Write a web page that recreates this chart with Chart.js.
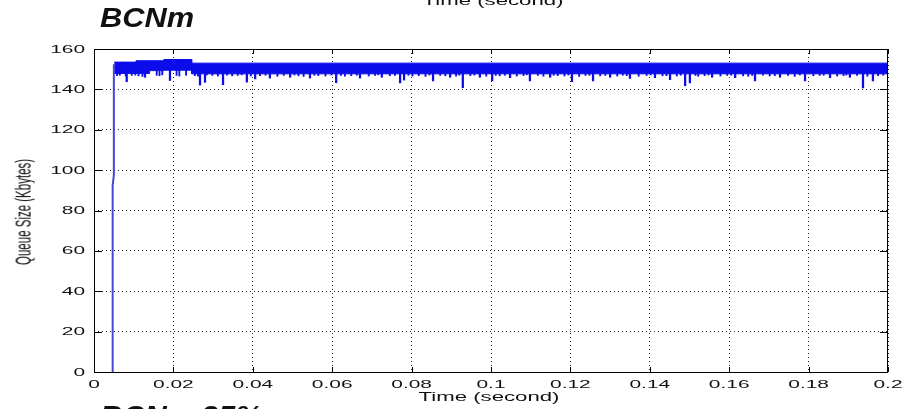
<!DOCTYPE html>
<html lang="en">
<head>
    <meta charset="utf-8">
    <title>BCNm queue size</title>
    <script src="https://cdn.jsdelivr.net/npm/chart.js"></script>
    <style>
        html, body { margin: 0; padding: 0; background: #fff; }
        #wrap {
            position: relative;
            width: 909px;
            height: 409px;
            overflow: hidden;
            font-family: "Liberation Sans", Arial, sans-serif;
            color: #111;
        }
        #myChart { position: absolute; left: 0; top: 0; }
        .big {
            position: absolute;
            left: 100px;
            font-size: 28px;
            line-height: 28px;
            font-weight: bold;
            font-style: italic;
            white-space: nowrap;
            transform: scaleX(1.1);
            transform-origin: left center;
        }
        .axis-title {
            position: absolute;
            font-size: 12px;
            line-height: 12px;
            white-space: nowrap;
            transform: translateX(-50%) scaleX(1.85);
        }
        #ytitle {
            position: absolute;
            left: 23px;
            top: 212px;
            font-size: 11.5px;
            line-height: 12px;
            white-space: nowrap;
            transform: translate(-50%, -50%) scaleX(1.9) rotate(-90deg);
        }
    </style>
</head>
<body>
<div id="wrap">
    <canvas id="myChart" width="909" height="409"></canvas>
    <div class="axis-title" style="left:493px; top:-5px;">Time (second)</div>
    <div class="big" style="top:4px;">BCNm</div>
    <div class="axis-title" style="left:489px; top:391px;">Time (second)</div>
    <div id="ytitle">Queue Size (Kbytes)</div>
    <div class="big" style="top:402px;">BCN – 25%</div>
</div>
<script>
    // --- tick labels ---
    const xTickLabels = ['0', '0.02', '0.04', '0.06', '0.08', '0.1', '0.12', '0.14', '0.16', '0.18', '0.2'];
    const yTickLabels = ['0', '20', '40', '60', '80', '100', '120', '140', '160'];

    // --- start-up edge of the queue ---
    const riseT = [0.0047, 0.0047, 0.0050, 0.0050];
    const riseV = [0, 92.5, 97.5, 152.5];

    // --- steady band (upper / lower envelope) ---
    const bandT   = [0.0051, 0.0106, 0.0106, 0.0140, 0.0140, 0.0176, 0.0176, 0.0246, 0.0246, 0.2];
    const bandTop = [153.5, 153.5, 154.2, 154.2, 154.2, 154.2, 154.8, 154.8, 153.0, 153.0];
    const bandLow = [147.9, 147.9, 147.9, 147.9, 149.3, 149.3, 149.5, 149.5, 147.7, 147.7];

    // --- deeper dips below the band ---
    const dipT = [0.00824, 0.01285, 0.01914, 0.0267, 0.02796, 0.0325, 0.0385, 0.0406, 0.0443, 0.0494,
                  0.0544, 0.0610, 0.0670, 0.0725, 0.0771, 0.0781, 0.0854, 0.0897, 0.0929, 0.0972,
                  0.1003, 0.1048, 0.1098, 0.1149, 0.1204, 0.1257, 0.1300, 0.1350, 0.1413, 0.1451,
                  0.1489, 0.1501, 0.1557, 0.1615, 0.1665, 0.1728, 0.1791, 0.1854, 0.1904, 0.1937, 0.1962];
    const dipV = [143.8, 146.0, 144.4, 142.1, 143.5, 142.3, 143.6, 145.2, 145.6, 146.0,
                  145.6, 143.3, 145.6, 146.0, 143.2, 144.6, 144.2, 146.0, 140.8, 146.0,
                  144.2, 145.8, 144.2, 146.0, 143.8, 144.2, 146.0, 145.4, 145.8, 144.8,
                  141.8, 143.2, 146.0, 145.8, 144.2, 146.0, 144.2, 145.8, 146.0, 140.7, 144.2];

    // --- small ripples just under the band ---
    const rippleT = [0.0058, 0.0065, 0.0080, 0.0095, 0.0104, 0.0112, 0.0122, 0.0158, 0.0165, 0.0172,
                     0.0208, 0.0215, 0.0232, 0.0254, 0.0262, 0.0284, 0.0298, 0.0312, 0.0335, 0.0348,
                     0.0362, 0.0372, 0.0395, 0.0418, 0.0432, 0.0462, 0.0478, 0.0505, 0.0515, 0.0528,
                     0.0555, 0.0565, 0.0583, 0.0598, 0.0622, 0.0632, 0.0648, 0.0662, 0.0692, 0.0708,
                     0.0716, 0.0745, 0.0758, 0.0792, 0.0802, 0.0818, 0.0835, 0.0845, 0.0872, 0.0885,
                     0.0912, 0.0920, 0.0948, 0.0958, 0.0988, 0.1012, 0.1022, 0.1035, 0.1065, 0.1082,
                     0.1090, 0.1118, 0.1132, 0.1158, 0.1168, 0.1185, 0.1195, 0.1222, 0.1238, 0.1248,
                     0.1275, 0.1288, 0.1318, 0.1332, 0.1342, 0.1372, 0.1392, 0.1402, 0.1432, 0.1442,
                     0.1468, 0.1478, 0.1515, 0.1522, 0.1538, 0.1548, 0.1578, 0.1595, 0.1605, 0.1635,
                     0.1648, 0.1658, 0.1685, 0.1702, 0.1715, 0.1748, 0.1765, 0.1778, 0.1812, 0.1828,
                     0.1838, 0.1872, 0.1888, 0.1895, 0.1922, 0.1948, 0.1975, 0.1988];
    const rippleV = [146.8, 147.0, 146.6, 146.9, 147.1, 146.7, 146.4, 147.0, 146.8, 147.2,
                     146.9, 146.6, 147.0, 146.8, 146.5, 147.1, 146.9, 146.6, 147.0, 146.7,
                     146.9, 147.2, 146.6, 146.8, 147.0, 146.5, 146.9, 147.1, 146.7, 146.4,
                     147.0, 146.8, 146.6, 147.1, 146.9, 146.5, 146.8, 147.0, 146.6, 146.9,
                     147.2, 146.7, 146.9, 147.0, 146.6, 146.8, 146.4, 147.1, 146.9, 146.7,
                     146.6, 147.0, 146.8, 147.1, 146.5, 146.9, 146.7, 147.0, 146.6, 146.8,
                     147.2, 146.9, 146.5, 147.0, 146.8, 146.6, 147.1, 146.4, 146.9, 147.0,
                     146.7, 146.9, 146.6, 147.0, 146.8, 146.5, 146.9, 147.1, 146.7, 146.8,
                     146.6, 147.0, 146.9, 146.5, 146.8, 147.1, 146.6, 146.9, 147.0, 146.7,
                     146.5, 146.9, 147.0, 146.6, 146.8, 146.9, 146.4, 147.1, 146.7, 146.9,
                     147.0, 146.6, 146.8, 147.1, 146.9, 146.5, 146.8, 147.0];

    const BLUE = 'rgb(12, 12, 235)';
    const zip = (ts, vs) => ts.map((t, i) => ({ x: t, y: vs[i] }));
    // each dip hangs from inside the band down to its value
    const spikes = (ts, vs) => ts.map((t, i) => ({ x: t, y: [vs[i], 150.5] }));

    // frame, inward ticks and stretched tick labels (MATLAB look)
    const matlabAxes = {
        id: 'matlabAxes',
        afterDraw(chart) {
            const { ctx, chartArea: a, scales: { x, y } } = chart;
            ctx.save();
            ctx.strokeStyle = '#000';
            ctx.lineWidth = 1;
            ctx.setLineDash([]);
            ctx.strokeRect(a.left + 0.5, a.top + 0.5, a.right - a.left - 1, a.bottom - a.top);
            ctx.beginPath();
            x.ticks.forEach(t => {
                const px = Math.round(x.getPixelForValue(t.value)) + 0.5;
                ctx.moveTo(px, a.bottom); ctx.lineTo(px, a.bottom - 5);
                ctx.moveTo(px, a.top); ctx.lineTo(px, a.top + 5);
            });
            y.ticks.forEach(t => {
                const py = Math.round(y.getPixelForValue(t.value)) + 0.5;
                ctx.moveTo(a.left, py); ctx.lineTo(a.left + 8, py);
                ctx.moveTo(a.right, py); ctx.lineTo(a.right - 8, py);
            });
            ctx.stroke();

            ctx.fillStyle = '#111';
            ctx.font = '11px "Liberation Sans", Arial, sans-serif';
            ctx.textAlign = 'center';
            ctx.textBaseline = 'alphabetic';
            x.ticks.forEach((t, i) => {
                ctx.save();
                ctx.translate(x.getPixelForValue(t.value), 388);
                ctx.scale(1.9, 1);
                ctx.fillText(xTickLabels[i], 0, 0);
                ctx.restore();
            });
            ctx.textAlign = 'right';
            ctx.textBaseline = 'middle';
            y.ticks.forEach((t, i) => {
                ctx.save();
                ctx.translate(85, y.getPixelForValue(t.value) + 0.5);
                ctx.scale(1.9, 1);
                ctx.fillText(yTickLabels[i], 0, 0);
                ctx.restore();
            });
            ctx.restore();
        }
    };

    const gridOpts = { color: '#222', lineWidth: 1, drawTicks: false, offset: false };

    new Chart(document.getElementById('myChart'), {
        type: 'line',
        data: {
            datasets: [
                { data: zip(riseT, riseV), borderColor: 'rgb(70, 70, 215)', borderWidth: 2, pointRadius: 0, fill: false },
                { data: zip(bandT, bandTop), borderColor: BLUE, backgroundColor: BLUE, borderWidth: 1,
                  pointRadius: 0, fill: '+1' },
                { data: zip(bandT, bandLow), borderColor: BLUE, borderWidth: 1, pointRadius: 0, fill: false },
                { type: 'bar', data: spikes(dipT, dipV), backgroundColor: BLUE, barThickness: 1.6, grouped: false },
                { type: 'bar', data: spikes(rippleT, rippleV), backgroundColor: BLUE, barThickness: 1.2, grouped: false }
            ]
        },
        options: {
            responsive: false,
            animation: false,
            layout: { padding: { top: 49, right: 21, left: 0, bottom: 0 } },
            plugins: { legend: { display: false }, tooltip: { enabled: false } },
            scales: {
                x: {
                    type: 'linear', min: 0, max: 0.2, offset: false,
                    ticks: { stepSize: 0.02, display: false },
                    grid: gridOpts,
                    border: { display: false, dash: [1, 3] },
                    afterFit: s => { s.height = 37; }
                },
                y: {
                    min: 0, max: 160,
                    ticks: { stepSize: 20, display: false },
                    grid: gridOpts,
                    border: { display: false, dash: [1, 3] },
                    afterFit: s => { s.width = 94; }
                }
            }
        },
        plugins: [matlabAxes]
    });
</script>
</body>
</html>
